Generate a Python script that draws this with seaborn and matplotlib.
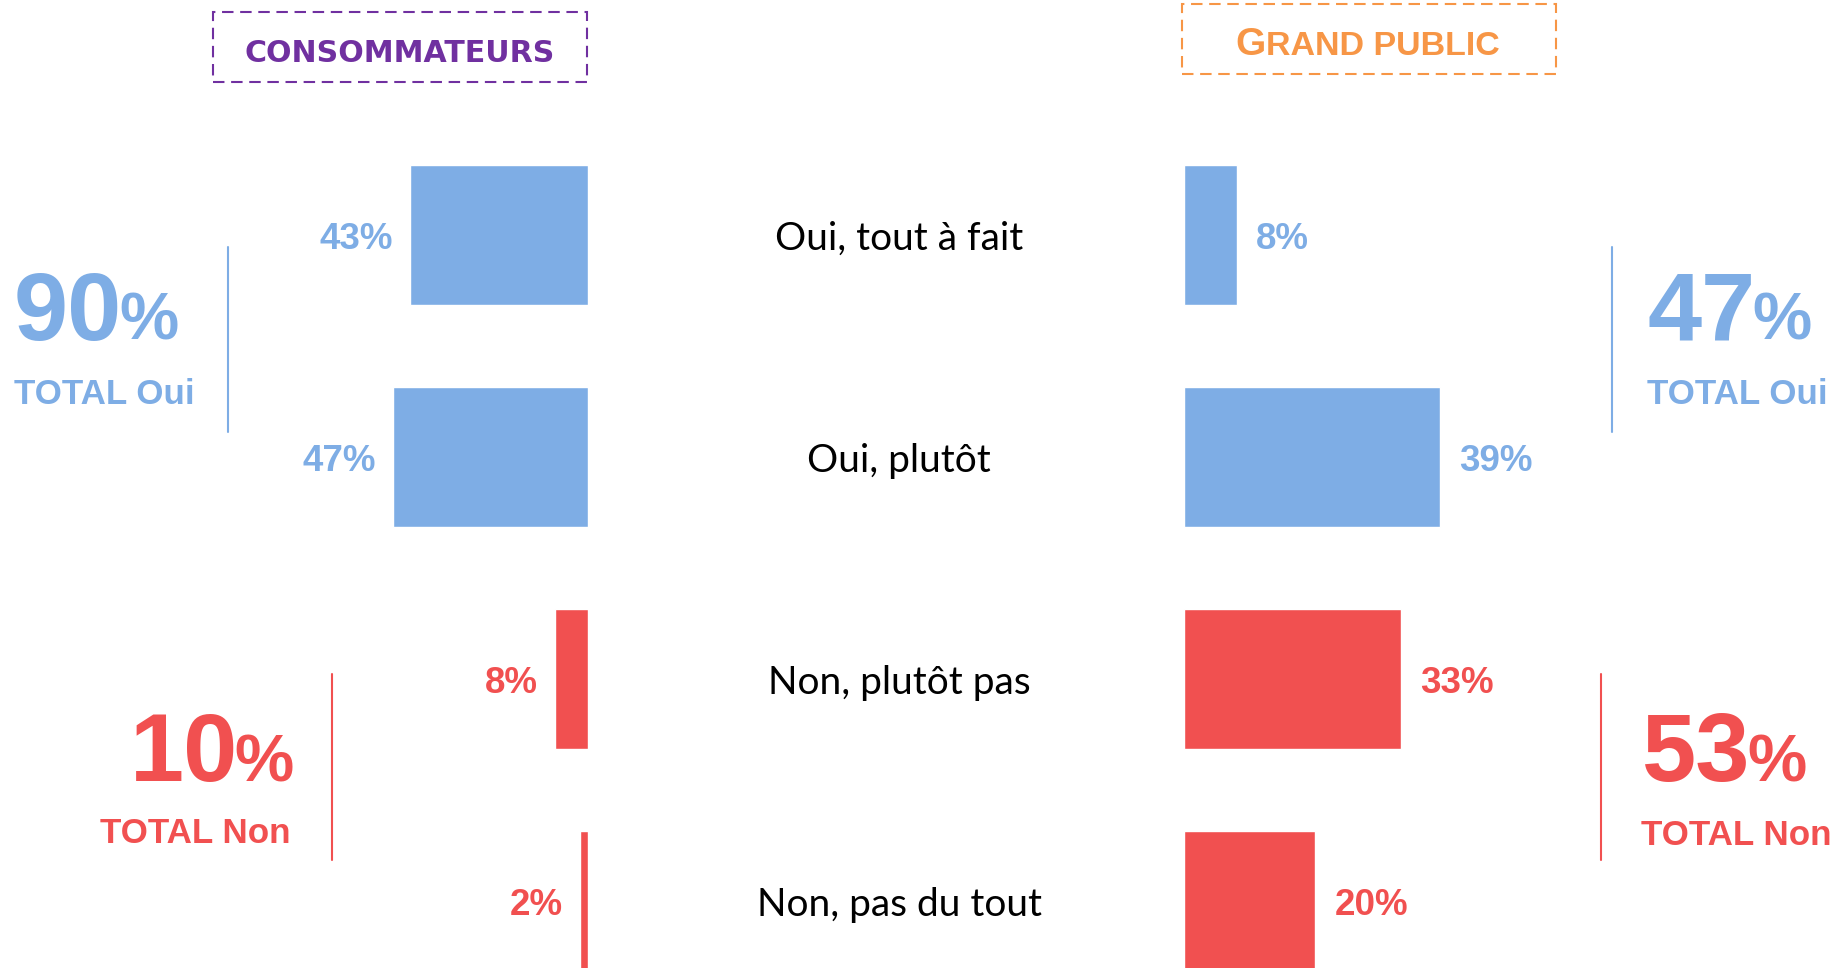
import matplotlib
matplotlib.use("Agg")
import matplotlib.pyplot as plt
import seaborn as sns
import pandas as pd
from matplotlib.patches import Rectangle
from matplotlib.lines import Line2D

# ---- data ----
categories = ["Oui, tout à fait", "Oui, plutôt", "Non, plutôt pas", "Non, pas du tout"]
consommateurs = [43, 47, 8, 2]
grand_public = [8, 39, 33, 20]
groups = ["Oui", "Oui", "Non", "Non"]
header_left = "CONSOMMATEURS"
header_right_first = "G"
header_right_rest = "RAND PUBLIC"
total_labels = {"Oui": "TOTAL Oui", "Non": "TOTAL Non"}

BLUE = "#7EADE5"
RED = "#F15050"
PURPLE = "#7030A0"
ORANGE = "#F79646"
W, H = 1842, 968
ROW0, STEP = 235, 222

sns.set_style("white")
plt.rcParams["font.family"] = ["Liberation Sans", "DejaVu Sans"]

fig = plt.figure(figsize=(W / 100, H / 100), dpi=100)


def fx(px):
    return px / W


def fy(py):
    return 1 - py / H


def make_df(vals):
    return pd.DataFrame({"cat": categories, "value": vals, "group": groups})


palette = {"Oui": BLUE, "Non": RED}

# left axis (consommateurs), bars grow leftwards
L0 = 588.0
L_SCALE = 4.15
axL = fig.add_axes([0, 0, fx(L0), 1])
sns.barplot(data=make_df(consommateurs), x="value", y="cat", hue="group",
            palette=palette, dodge=False, width=0.63, saturation=1,
            legend=False, ax=axL, orient="h")
axL.set_xlim(L0 / L_SCALE, 0)

# right axis (grand public)
R0 = 1184.1
R_SCALE = 6.56
axR = fig.add_axes([fx(R0), 0, 1 - fx(R0), 1])
sns.barplot(data=make_df(grand_public), x="value", y="cat", hue="group",
            palette=palette, dodge=False, width=0.63, saturation=1,
            legend=False, ax=axR, orient="h")
axR.set_xlim(0, (W - R0) / R_SCALE)

for ax in (axL, axR):
    ax.set_ylim((H - ROW0) / STEP, -ROW0 / STEP)
    ax.axis("off")

# value labels
for i, v in enumerate(consommateurs):
    axL.annotate(f"{v}%", xy=(v, i), xytext=(-12, -9.8), textcoords="offset points",
                 ha="right", va="baseline", fontsize=26.5, fontweight="bold",
                 color=palette[groups[i]])
for i, v in enumerate(grand_public):
    axR.annotate(f"{v}%", xy=(v, i), xytext=(14, -9.8), textcoords="offset points",
                 ha="left", va="baseline", fontsize=26.5, fontweight="bold",
                 color=palette[groups[i]])

# category labels
for i, c in enumerate(categories):
    fig.text(fx(899), fy(ROW0 + STEP * i + 15), c, ha="center", va="baseline",
             fontsize=28, family=["Lato", "DejaVu Sans"], fontweight="normal",
             color="#000000")

# header boxes
fig.patches.append(Rectangle((fx(213), fy(82)), fx(587) - fx(213), fy(12) - fy(82),
                             transform=fig.transFigure, fill=False, edgecolor=PURPLE,
                             lw=1.5, linestyle=(0, (5.5, 3.2))))
fig.text(fx(400), fy(62), header_left, ha="center", va="baseline", fontsize=21.6,
         family=["DejaVu Sans"], fontweight="bold", color=PURPLE)

fig.patches.append(Rectangle((fx(1182), fy(74)), fx(1556) - fx(1182), fy(4) - fy(74),
                             transform=fig.transFigure, fill=False, edgecolor=ORANGE,
                             lw=1.5, linestyle=(0, (5.5, 3.2))))
fig.canvas.draw()
renderer = fig.canvas.get_renderer()
tg = fig.text(fx(1235), fy(55), header_right_first, ha="left", va="baseline",
              fontsize=28, fontweight="bold", color=ORANGE)
ext = tg.get_window_extent(renderer)
fig.text(fx(ext.x1 + 1), fy(55), header_right_rest, ha="left", va="baseline",
         fontsize=24.5, fontweight="bold", color=ORANGE)

# totals
def big_total(x, base, value, label, color, align, label_x):
    if align == "left":
        t = fig.text(fx(x), fy(base), f"{value}", ha="left", va="baseline",
                     fontsize=70, fontweight="bold", color=color)
        e = t.get_window_extent(renderer)
        fig.text(fx(e.x1 - 3), fy(base), "%", ha="left", va="baseline",
                 fontsize=48, fontweight="bold", color=color)
        fig.text(fx(label_x), fy(base + 64), label, ha="left", va="baseline",
                 fontsize=25.2, fontweight="bold", color=color)
    else:
        p = fig.text(fx(x), fy(base), "%", ha="right", va="baseline",
                     fontsize=48, fontweight="bold", color=color)
        e = p.get_window_extent(renderer)
        fig.text(fx(e.x0 + 3), fy(base), f"{value}", ha="right", va="baseline",
                 fontsize=70, fontweight="bold", color=color)
        fig.text(fx(label_x), fy(base + 62), label, ha="right", va="baseline",
                 fontsize=25.2, fontweight="bold", color=color)


def total(vals, grp):
    return sum(v for v, g in zip(vals, groups) if g == grp)


big_total(14, 340, total(consommateurs, "Oui"), total_labels["Oui"], BLUE, "left", 14)
big_total(294, 781, total(consommateurs, "Non"), total_labels["Non"], RED, "right", 291)
big_total(1647, 340, total(grand_public, "Oui"), total_labels["Oui"], BLUE, "left", 1647)
big_total(1642, 781, total(grand_public, "Non"), total_labels["Non"], RED, "left", 1641)

# separator lines
for x, y0, y1, c in [(228, 247, 432, BLUE), (1612, 247, 432, BLUE),
                     (332, 674, 860, RED), (1601, 674, 860, RED)]:
    fig.add_artist(Line2D([fx(x), fx(x)], [fy(y0), fy(y1)], transform=fig.transFigure,
                          color=c, lw=1.5))

fig.savefig("out.png", dpi=100)
